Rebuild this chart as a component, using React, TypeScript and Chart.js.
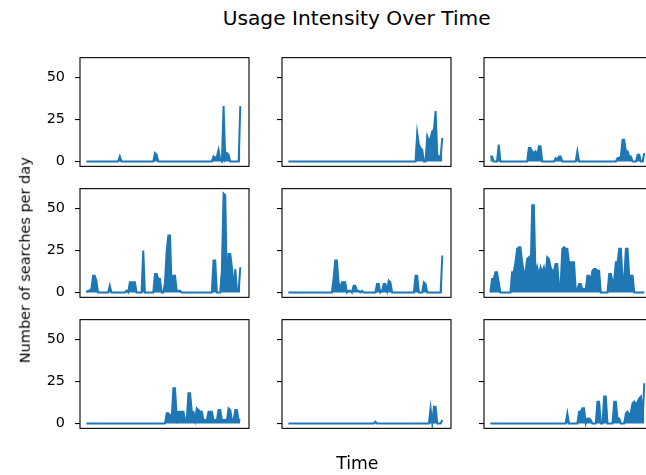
import React, { useEffect, useRef } from "react";
import { Chart, registerables } from "chart.js";

Chart.register(...registerables);

// Daily search counts per panel (row-major order, 93 days each)
const searchesR1C1 = [
  0, 0, 0, 0, 0, 0, 0, 0, 0, 0,
  0, 0, 0, 0, 0, 0, 0, 0, 0, 0,
  3, 0, 0, 0, 0, 0, 0, 0, 0, 0,
  0, 0, 0, 0, 0, 0, 0, 0, 0, 0,
  0, 5, 4, 0, 0, 0, 0, 0, 0, 0,
  0, 0, 0, 0, 0, 0, 0, 0, 0, 0,
  0, 0, 0, 0, 0, 0, 0, 0, 0, 0,
  0, 0, 0, 0, 0, 0, 3, 2, 3, 7,
  1, 0, 33, 2, 5, 4, 0, 0, 0, 0,
  0, 0, 33,
];
const searchesR1C2 = [
  0, 0, 0, 0, 0, 0, 0, 0, 0, 0,
  0, 0, 0, 0, 0, 0, 0, 0, 0, 0,
  0, 0, 0, 0, 0, 0, 0, 0, 0, 0,
  0, 0, 0, 0, 0, 0, 0, 0, 0, 0,
  0, 0, 0, 0, 0, 0, 0, 0, 0, 0,
  0, 0, 0, 0, 0, 0, 0, 0, 0, 0,
  0, 0, 0, 0, 0, 0, 0, 0, 0, 0,
  0, 0, 0, 0, 0, 0, 0, 17, 10, 8,
  7, 0, 0, 15, 12, 14, 18, 19, 30, 4,
  3, 3, 14,
];
const searchesR1C3 = [
  3, 3, 0, 0, 0, 10, 0, 0, 0, 0,
  0, 0, 0, 0, 0, 0, 0, 0, 0, 0,
  0, 0, 0, 8, 8, 6, 5, 6, 3, 9,
  9, 0, 0, 0, 0, 0, 0, 0, 0, 2,
  1, 3, 3, 0, 0, 0, 0, 0, 0, 0,
  0, 0, 6, 0, 0, 0, 0, 0, 0, 0,
  0, 0, 0, 0, 0, 0, 0, 0, 0, 0,
  0, 0, 0, 0, 0, 0, 2, 2, 3, 13,
  13, 6, 6, 3, 3, 0, 0, 0, 4, 4,
  0, 0, 5,
];
const searchesR2C1 = [
  0, 1, 1, 2, 10, 10, 7, 0, 0, 0,
  0, 0, 0, 0, 4, 0, 0, 0, 0, 0,
  0, 0, 0, 0, 1, 0, 6, 6, 6, 6,
  0, 0, 0, 0, 25, 0, 0, 0, 0, 0,
  0, 11, 11, 8, 8, 0, 0, 6, 25, 34,
  34, 2, 10, 10, 1, 1, 1, 0, 0, 0,
  0, 0, 0, 0, 0, 0, 0, 0, 0, 0,
  0, 0, 0, 0, 0, 0, 19, 19, 0, 0,
  0, 13, 59, 58, 2, 23, 23, 15, 2, 14,
  1, 1, 15,
];
const searchesR2C2 = [
  0, 0, 0, 0, 0, 0, 0, 0, 0, 0,
  0, 0, 0, 0, 0, 0, 0, 0, 0, 0,
  0, 0, 0, 0, 0, 0, 0, 8, 19, 19,
  6, 2, 6, 6, 6, 0, 1, 1, 0, 4,
  4, 1, 1, 0, 1, 0, 0, 0, 0, 0,
  0, 0, 0, 5, 5, 0, 1, 5, 5, 1,
  7, 6, 0, 0, 0, 0, 0, 0, 0, 0,
  0, 0, 0, 0, 0, 0, 10, 10, 0, 0,
  0, 6, 5, 0, 0, 0, 0, 0, 0, 0,
  0, 0, 22,
];
const searchesR2C3 = [
  0, 8, 8, 12, 12, 6, 0, 0, 0, 0,
  0, 0, 0, 12, 12, 18, 26, 27, 27, 18,
  12, 12, 20, 21, 10, 52, 52, 10, 15, 10,
  15, 12, 15, 10, 21, 20, 15, 13, 13, 17,
  17, 4, 4, 26, 27, 26, 26, 18, 18, 18,
  18, 2, 2, 5, 5, 2, 2, 2, 10, 10,
  7, 13, 14, 14, 13, 13, 0, 0, 0, 0,
  0, 11, 11, 7, 7, 18, 18, 26, 26, 8,
  8, 26, 26, 10, 10, 10, 0, 0, 0, 0,
  0, 0, 0,
];
const searchesR3C1 = [
  0, 0, 0, 0, 0, 0, 0, 0, 0, 0,
  0, 0, 0, 0, 0, 0, 0, 0, 0, 0,
  0, 0, 0, 0, 0, 0, 0, 0, 0, 0,
  0, 0, 0, 0, 0, 0, 0, 0, 0, 0,
  0, 0, 0, 0, 0, 0, 0, 0, 6, 6,
  5, 3, 21, 21, 3, 7, 7, 7, 7, 2,
  2, 18, 18, 7, 7, 2, 9, 8, 7, 7,
  2, 2, 2, 7, 7, 7, 2, 2, 2, 8,
  8, 2, 2, 2, 2, 9, 8, 2, 2, 8,
  8, 2, 2,
];
const searchesR3C2 = [
  0, 0, 0, 0, 0, 0, 0, 0, 0, 0,
  0, 0, 0, 0, 0, 0, 0, 0, 0, 0,
  0, 0, 0, 0, 0, 0, 0, 0, 0, 0,
  0, 0, 0, 0, 0, 0, 0, 0, 0, 0,
  0, 0, 0, 0, 0, 0, 0, 0, 0, 0,
  0, 0, 1, 0, 0, 0, 0, 0, 0, 0,
  0, 0, 0, 0, 0, 0, 0, 0, 0, 0,
  0, 0, 0, 0, 0, 0, 0, 0, 0, 0,
  0, 0, 0, 0, 0, 9, 0, 10, 10, 0,
  0, 0, 2,
];
const searchesR3C3 = [
  0, 0, 0, 0, 0, 0, 0, 0, 0, 0,
  0, 0, 0, 0, 0, 0, 0, 0, 0, 0,
  0, 0, 0, 0, 0, 0, 0, 0, 0, 0,
  0, 0, 0, 0, 0, 0, 0, 0, 0, 0,
  0, 0, 0, 0, 0, 0, 6, 0, 0, 0,
  0, 0, 0, 7, 7, 9, 9, 0, 3, 3,
  2, 0, 0, 0, 13, 13, 0, 0, 16, 16,
  0, 0, 0, 0, 13, 13, 3, 3, 0, 0,
  0, 6, 7, 4, 7, 12, 13, 11, 13, 15,
  16, 3, 24,
];

const panelSeries = [
  [searchesR1C1, searchesR1C2, searchesR1C3],
  [searchesR2C1, searchesR2C2, searchesR2C3],
  [searchesR3C1, searchesR3C2, searchesR3C3],
];

const yTickValues = [0, 25, 50];
const Y_MIN = -2.95;
const Y_MAX = 61.95;
const X_MIN = -3.8;
const X_MAX = 97.2;

const TITLE = "Usage Intensity Over Time";
const X_LABEL = "Time";
const Y_LABEL = "Number of searches per day";

// layout (pixels)
const COL_LEFT = [80, 282, 484];
const ROW_TOP = [57, 188, 319];
const PW = 169;
const PH = 110;
const AXIS_W = 60;
const PAD = 18;
const BLUE = "#1f77b4";
const FONT = "'DejaVu Sans', sans-serif";

const framePlugin = {
  id: "frame",
  afterDraw(chart: any) {
    const { ctx, chartArea: a } = chart;
    ctx.save();
    ctx.strokeStyle = "#000";
    ctx.lineWidth = 1.1;
    ctx.strokeRect(a.left, a.top, a.right - a.left, a.bottom - a.top);
    ctx.restore();
  },
};

function Panel({ values, row, col }: { values: number[]; row: number; col: number }) {
  const ref = useRef<HTMLCanvasElement>(null);
  const showLabels = col === 0;
  useEffect(() => {
    const chart = new Chart(ref.current as HTMLCanvasElement, {
      type: "line",
      data: {
        datasets: [
          {
            data: values.map((v, i) => ({ x: i, y: v })),
            borderColor: BLUE,
            backgroundColor: BLUE,
            borderWidth: 2,
            pointRadius: 0,
            fill: "origin",
            tension: 0,
          },
        ],
      },
      options: {
        animation: false,
        responsive: true,
        maintainAspectRatio: false,
        layout: { padding: { left: 0, right: PAD, top: PAD, bottom: PAD } },
        plugins: {
          legend: { display: false },
          tooltip: { enabled: false },
          title: { display: false },
        },
        scales: {
          x: { type: "linear", display: false, min: X_MIN, max: X_MAX },
          y: {
            type: "linear",
            min: Y_MIN,
            max: Y_MAX,
            afterFit: (s: any) => {
              s.width = AXIS_W;
            },
            afterBuildTicks: (s: any) => {
              s.ticks = yTickValues.map((v) => ({ value: v }));
            },
            grid: {
              drawOnChartArea: false,
              drawTicks: true,
              tickLength: 5,
              color: "#000",
              lineWidth: 1.1,
            },
            border: { display: false },
            ticks: {
              padding: 10,
              color: "#000",
              font: { family: FONT, size: 14.4 },
              callback: (v: any) => (showLabels ? String(v) : ""),
            },
          },
        },
      } as any,
      plugins: [framePlugin],
    });
    return () => chart.destroy();
  }, [values, showLabels]);

  return (
    <div
      style={{
        position: "absolute",
        left: COL_LEFT[col] - AXIS_W,
        top: ROW_TOP[row] - PAD,
        width: AXIS_W + PW + PAD,
        height: PH + 2 * PAD,
      }}
    >
      <canvas ref={ref} />
    </div>
  );
}

export default function App() {
  return (
    <div
      style={{
        position: "fixed",
        left: 0,
        top: 0,
        width: 646,
        height: 475,
        overflow: "hidden",
        background: "#fff",
        fontFamily: FONT,
        color: "#000",
      }}
    >
      {panelSeries.map((rowArr, r) =>
        rowArr.map((vals, c) => <Panel key={`${r}-${c}`} values={vals} row={r} col={c} />)
      )}
      <div
        style={{
          position: "absolute",
          left: 356.7 - 300,
          top: 7.9,
          width: 600,
          textAlign: "center",
          fontSize: 20.2,
          lineHeight: 1,
          whiteSpace: "nowrap",
        }}
      >
        {TITLE}
      </div>
      <div
        style={{
          position: "absolute",
          left: 357.3 - 100,
          top: 454.7,
          width: 200,
          textAlign: "center",
          fontSize: 17.3,
          lineHeight: 1,
          whiteSpace: "nowrap",
        }}
      >
        {X_LABEL}
      </div>
      <div
        style={{
          position: "absolute",
          left: 25 - 200,
          top: 260 - 14.5 / 2,
          width: 400,
          height: 14.5,
          textAlign: "center",
          fontSize: 14.5,
          lineHeight: 1,
          whiteSpace: "nowrap",
          transform: "rotate(-90deg)",
          transformOrigin: "50% 50%",
        }}
      >
        {Y_LABEL}
      </div>
    </div>
  );
}
